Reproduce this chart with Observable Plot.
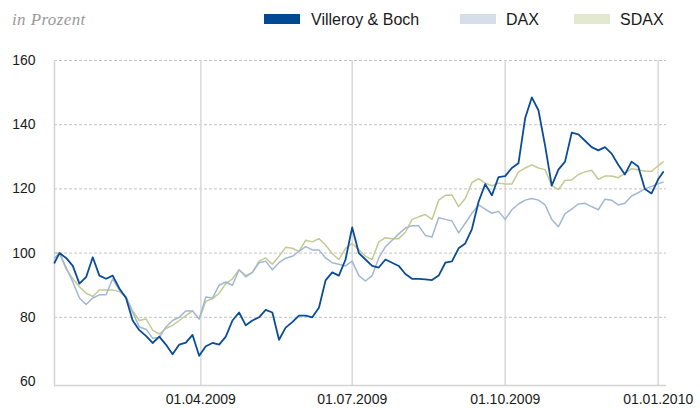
<!DOCTYPE html>
<html>
<head>
<meta charset="utf-8">
<script src="https://cdn.jsdelivr.net/npm/d3@7"></script>
<script src="https://cdn.jsdelivr.net/npm/@observablehq/plot@0.6"></script>
<style>
  body { margin: 0; background: #fff; font-family: "Liberation Sans", Arial, sans-serif; }
  #wrap { width: 700px; position: relative; }
  #head { position: relative; height: 40px; }
  .unit { position: absolute; left: 12px; top: 10.5px; font-family: "Liberation Serif", serif; font-style: italic; font-size: 17px; line-height: 17px; color: #9a9a9a; letter-spacing: 0.4px; }
  .sw { position: absolute; top: 14px; width: 36px; height: 10px; }
  .lab { position: absolute; top: 11.5px; font-size: 16px; line-height: 16px; color: #1a1a1a; }
  svg { display: block; }
</style>
</head>
<body>
<div id="wrap">
  <div id="head"></div>
  <div id="chart"></div>
</div>
<script>
const unitLabel = "in Prozent";
const seriesNames = ["Villeroy & Boch", "DAX", "SDAX"];
const lineColors = ["#0b4c97", "#a2b7d4", "#c3ca93"];
const swatchColors = ["#004a93", "#d6dee9", "#e3e8d0"];
const lineWidths = [1.8, 1.5, 1.5];
const yTicks = [60, 80, 100, 120, 140, 160];
const xTicks = ["2009-04-01", "2009-07-01", "2009-10-01", "2010-01-01"];

const dates = [
  "2009-01-03","2009-01-06","2009-01-10","2009-01-14","2009-01-18","2009-01-22","2009-01-26","2009-01-30",
  "2009-02-03","2009-02-07","2009-02-11","2009-02-15","2009-02-19","2009-02-23","2009-02-27",
  "2009-03-03","2009-03-07","2009-03-11","2009-03-15","2009-03-19","2009-03-23","2009-03-27","2009-03-31",
  "2009-04-04","2009-04-08","2009-04-12","2009-04-16","2009-04-20","2009-04-24","2009-04-28",
  "2009-05-02","2009-05-06","2009-05-10","2009-05-14","2009-05-18","2009-05-22","2009-05-26","2009-05-30",
  "2009-06-03","2009-06-07","2009-06-11","2009-06-15","2009-06-19","2009-06-23","2009-06-27",
  "2009-07-01","2009-07-05","2009-07-09","2009-07-13","2009-07-17","2009-07-21","2009-07-25","2009-07-29",
  "2009-08-02","2009-08-06","2009-08-10","2009-08-14","2009-08-18","2009-08-22","2009-08-26","2009-08-30",
  "2009-09-03","2009-09-07","2009-09-11","2009-09-15","2009-09-19","2009-09-23","2009-09-27",
  "2009-10-01","2009-10-05","2009-10-09","2009-10-13","2009-10-17","2009-10-21","2009-10-25","2009-10-29",
  "2009-11-02","2009-11-06","2009-11-10","2009-11-14","2009-11-18","2009-11-22","2009-11-26","2009-11-30",
  "2009-12-04","2009-12-08","2009-12-12","2009-12-16","2009-12-20","2009-12-24","2009-12-28",
  "2010-01-01","2010-01-04"
];

const villeroy = [
  97, 100, 98.5, 96, 90.5, 92.5, 98.7, 93, 92, 93, 89, 86, 79, 76, 74.2,
  72, 74, 71.5, 68.5, 71.5, 72.1, 74.5, 68,
  71, 72, 71.5, 74, 79, 81.5, 77.5,
  79, 80, 82.3, 81.5, 73, 76.8, 78.5, 80.5,
  80.5, 80, 83, 91.5, 94, 93, 98,
  108, 100, 98, 96, 95.5, 98, 97, 96,
  93.5, 92, 92, 91.8, 91.6, 93, 97, 97.4,
  101.5, 103, 107.5, 116, 121.5, 118, 123.7,
  124, 126.5, 128, 142, 148.5, 144.5, 133.5, 121,
  126, 128.5, 137.5, 137, 135, 133, 132, 133,
  131, 127.5, 124.5, 128.5, 127, 120, 118.6,
  123, 125.3
];

const dax = [
  98.5, 100, 95.5, 91, 86, 84, 86, 87, 87, 92, 88.5, 86.5, 81.5, 77, 76.3,
  73.5, 73.7, 77, 79, 80, 82, 82, 79.5,
  86.3, 86, 90, 91, 90, 94.8, 92.6,
  94, 97, 97.5, 94.8, 97, 98.4, 99, 100.5,
  102, 101, 101, 98.5, 97, 96.5, 96,
  97.5, 93, 91.3, 93, 98.5, 102, 104, 106,
  107.8, 108.5, 108.5, 105.5, 105, 111, 110.5, 110,
  106.3, 109.3, 112.4, 115, 113.7, 112.4, 113,
  110.5, 113.5, 115.3, 116.5, 117, 116.5, 115, 110.5,
  108.2, 112.3, 113.7, 115.3, 115.5, 114.5, 113.5, 116.8,
  116.5, 115, 115.5, 117.8, 118.8, 120, 120.8,
  121.6, 122.1
];

const sdax = [
  100, 100, 95, 92, 89.5, 87.5, 86.5, 88.5, 88.5, 88.5, 88, 86.3, 82, 79, 79.5,
  76, 74.8, 76.5, 77.5, 79, 80.5, 82, 79.5,
  85, 85.8, 87.5, 90.5, 92, 94.8, 93,
  94, 97.5, 98.5, 96.5, 99, 101.8, 101.5, 100.5,
  104, 103.5, 104.5, 102.5, 99.8, 98, 101.5,
  103, 101, 99, 98, 103.5, 104.8, 104.5, 104.5,
  106.5, 110.5, 111.3, 112, 110.5, 116.5, 118, 118.1,
  114.5, 117, 122, 123.2, 121.8, 121, 121.8,
  121.5, 121.5, 125.3, 126.5, 127.5, 126.5, 126, 121,
  119.8, 122.6, 122.8, 124.5, 125.3, 125.8, 123, 124,
  124, 123.5, 124.8, 126.3, 126, 125.5, 125.5,
  127.2, 128.4
];

// header (unit label + legend)
const head = document.getElementById("head");
const unit = document.createElement("div");
unit.className = "unit"; unit.textContent = unitLabel; head.appendChild(unit);
const swLeft = [264, 460, 574];
const labLeft = [311, 506, 620];
seriesNames.forEach((name, i) => {
  const sw = document.createElement("div");
  sw.className = "sw"; sw.style.left = swLeft[i] + "px"; sw.style.background = swatchColors[i];
  head.appendChild(sw);
  const lb = document.createElement("div");
  lb.className = "lab"; lb.style.left = labLeft[i] + "px"; lb.textContent = name;
  head.appendChild(lb);
});

const parse = d3.utcParse("%Y-%m-%d");
const valuesBySeries = [villeroy, dax, sdax];
const rows = [];
valuesBySeries.forEach((vals, s) => {
  vals.forEach((v, i) => rows.push({date: parse(dates[i]), value: v, series: seriesNames[s]}));
});
const xTickDates = xTicks.map(parse);
const xDomain = [parse("2009-01-03"), parse("2010-01-06")];

const lineMark = (s) => Plot.line(rows.filter(r => r.series === seriesNames[s]), {
  x: "date", y: "value", stroke: lineColors[s], strokeWidth: lineWidths[s], strokeLinejoin: "round"
});

const chart = Plot.plot({
  width: 700,
  height: 368,
  marginLeft: 54,
  marginRight: 34,
  marginTop: 20,
  marginBottom: 27,
  style: {fontFamily: "Liberation Sans, Arial, sans-serif", fontSize: "14px", color: "#1a1a1a", background: "#fff"},
  x: {type: "utc", domain: xDomain, label: null},
  y: {domain: [60, 160], label: null},
  marks: [
    Plot.gridY(yTicks.slice(1), {stroke: "#c4c4c4", strokeOpacity: 1, strokeWidth: 1, strokeDasharray: "3,2"}),
    Plot.ruleX(xTickDates, {stroke: "#d9d9d9", strokeWidth: 1.5, insetBottom: -4}),
    Plot.ruleX([xDomain[0]], {stroke: "#d4d4d4", strokeWidth: 1.5, insetBottom: -4}),
    Plot.ruleY([60], {stroke: "#d4d4d4", strokeWidth: 1.5, dy: 4}),
    lineMark(2),
    lineMark(1),
    lineMark(0),
    Plot.axisY(yTicks, {tickSize: 0, tickPadding: 19, fontSize: 14, fill: "#1a1a1a", label: null}),
    Plot.axisX(xTickDates, {tickSize: 0, tickPadding: 13, fontSize: 14, fill: "#1a1a1a", label: null, tickFormat: d3.utcFormat("%d.%m.%Y")})
  ]
});
document.getElementById("chart").appendChild(chart);
</script>
</body>
</html>
